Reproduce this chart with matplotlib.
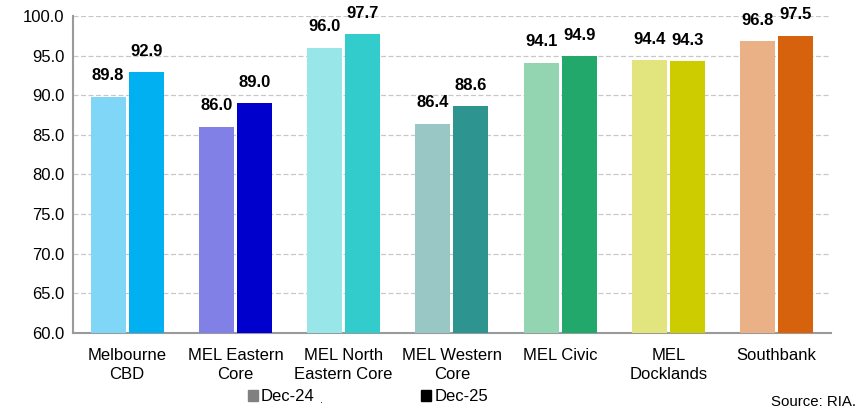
import matplotlib.pyplot as plt
import matplotlib.patches as mpatches
import numpy as np

plt.rcParams['font.family'] = ['Liberation Sans', 'DejaVu Sans']

categories = ["Melbourne\nCBD", "MEL Eastern\nCore", "MEL North\nEastern Core",
              "MEL Western\nCore", "MEL Civic", "MEL\nDocklands", "Southbank"]
dec24 = [89.8, 86.0, 96.0, 86.4, 94.1, 94.4, 96.8]
dec25 = [92.9, 89.0, 97.7, 88.6, 94.9, 94.3, 97.5]
colors24 = ["#7fd6f7", "#8080e6", "#99e6e8", "#99c7c6", "#92d5b0", "#e2e47e", "#eab187"]
colors25 = ["#00b0f0", "#0000cc", "#33cccc", "#2e9490", "#21a86a", "#cccc00", "#d6620e"]

fig = plt.figure(figsize=(8.66, 4.12), dpi=100)
ax = fig.add_axes([0.0843, 0.192, 0.875, 0.769])

x = np.arange(len(categories))
w = 0.323
off = 0.176
ax.bar(x - off, dec24, w, color=colors24, zorder=3)
ax.bar(x + off, dec25, w, color=colors25, zorder=3)

for xi, v in zip(x - off, dec24):
    ax.text(xi, v + 1.7, f"{v:.1f}", ha="center", va="bottom", fontsize=12, fontweight="bold")
for xi, v in zip(x + off, dec25):
    ax.text(xi, v + 1.7, f"{v:.1f}", ha="center", va="bottom", fontsize=12, fontweight="bold")

ax.set_ylim(60, 100)
ax.set_xlim(-0.5, len(categories) - 0.5)
ax.set_yticks(np.arange(60, 100.1, 5))
ax.set_yticklabels([f"{t:.1f}" for t in np.arange(60, 100.1, 5)], fontsize=12)
ax.set_xticks(x)
ax.set_xticklabels(categories, fontsize=12, linespacing=1.3)
ax.tick_params(axis="x", length=0, pad=11)
ax.tick_params(axis="y", length=0, pad=6)
ax.yaxis.grid(True, color="#c8c8c8", linestyle=(0, (4, 2)), linewidth=0.9, zorder=0)

for s in ["top", "right"]:
    ax.spines[s].set_visible(False)
for s in ["left", "bottom"]:
    ax.spines[s].set_color("#9a9a9a")
    ax.spines[s].set_linewidth(1.5)

h1 = mpatches.Patch(color="#808080", label="Dec-24")
h2 = mpatches.Patch(color="#000000", label="Dec-25")
fig.legend(handles=[h1, h2], loc="center", bbox_to_anchor=(0.425, 0.037), ncol=2,
           frameon=False, fontsize=12, handlelength=0.6, handleheight=0.6,
           handletextpad=0.2, columnspacing=6.4)
fig.text(0.369, 0.022, ".", fontsize=8)
fig.text(0.988, 0.008, "Source: RIA.", ha="right", va="bottom", fontsize=10.8)

fig.savefig("out.png", dpi=100)
